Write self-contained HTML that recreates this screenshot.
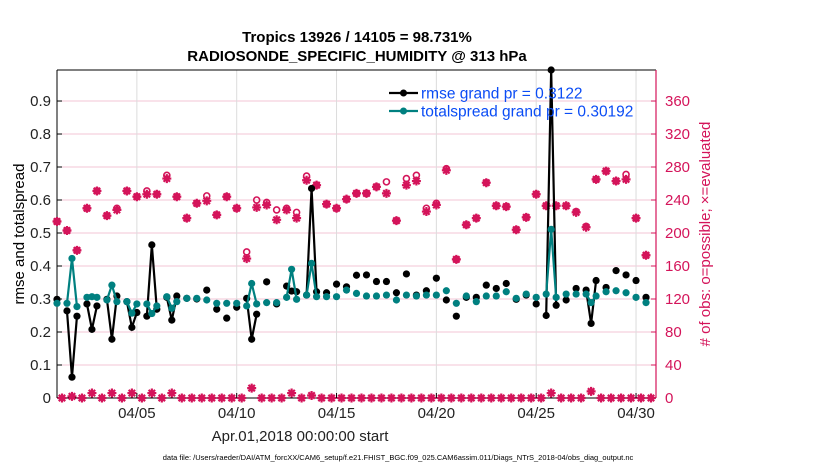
<!DOCTYPE html>
<html><head><meta charset="utf-8">
<style>
html,body{margin:0;padding:0;background:#fff;}
svg{display:block;font-family:"Liberation Sans",Arial,sans-serif;}
</style></head>
<body>
<svg id="chart" width="830" height="470" viewBox="0 0 830 470" xmlns="http://www.w3.org/2000/svg">
  <rect width="830" height="470" fill="#fff"/>
  <text x="357" y="42" text-anchor="middle" font-size="15" font-weight="bold" fill="#000">Tropics 13926 / 14105 = 98.731%</text>
  <text x="357" y="61" text-anchor="middle" font-size="15" font-weight="bold" fill="#000">RADIOSONDE_SPECIFIC_HUMIDITY @ 313 hPa</text>
  <g id="grid"></g>
  <g id="axes"></g>
  <g id="marks"></g>
  <text transform="translate(24,234) rotate(-90)" text-anchor="middle" font-size="15" fill="#000">rmse and totalspread</text>
  <text transform="translate(710,234) rotate(-90)" text-anchor="middle" font-size="15" fill="#d4145a"># of obs: o=possible; ×=evaluated</text>
  <text x="300" y="441" text-anchor="middle" font-size="15" fill="#222">Apr.01,2018 00:00:00 start</text>
  <text x="398" y="460" text-anchor="middle" font-size="7.5" fill="#000">data file: /Users/raeder/DAI/ATM_forcXX/CAM6_setup/f.e21.FHIST_BGC.f09_025.CAM6assim.011/Diags_NTrS_2018-04/obs_diag_output.nc</text>
  <g id="legend"></g>
</svg>
<script>
// ---- data (00Z and 12Z, every half day from Apr 1) ----
const rmse12 = [.299,.264,.248,.285,.279,.299,.309,.292,.259,.248,.269,.305,.309,.302,.300,.327,.269,.242,.275,.302,.254,.352,.285,.339,.322,.312,.322,.319,.345,.337,.372,.373,.353,.353,.319,.376,.312,.325,.363,.297,.248,.305,.305,.342,.332,.347,.299,.312,.285,.250,.281,.297,.332,.327,.356,.335,.386,.373,.356,.305];
const spread12 = [.287,.287,.277,.305,.305,.297,.292,.292,.285,.285,.279,.307,.292,.302,.302,.297,.287,.287,.287,.279,.285,.289,.289,.305,.299,.312,.307,.307,.307,.327,.317,.309,.309,.312,.297,.312,.309,.312,.312,.325,.287,.309,.292,.309,.309,.322,.302,.315,.305,.315,.305,.315,.315,.315,.309,.322,.325,.319,.305,.289];
const used12 = [214,203,179,230,251,221,228,251,244,247,247,266,244,218,236,239,222,244,230,169,231,234,216,228,218,264,258,235,230,241,248,248,256,248,215,258,263,226,234,276,168,210,218,261,233,232,204,219,247,233,233,233,225,207,265,275,263,265,218,173];
const poss12 = [214,203,179,230,251,221,230,251,244,251,247,270,244,218,236,245,222,244,230,177,240,237,228,230,225,269,258,235,230,241,248,248,256,262,215,266,270,230,236,278,168,210,218,261,233,232,204,219,247,233,233,233,226,208,265,275,263,271,218,173];
// ---- 18Z analyses that had observations ----
const times18 = [0.75,1.75,2.75,3.75,4.75,5.75,9.75,11.75,12.75,24.75,26.75];
const rmse18 = [.063,.208,.178,.214,.464,.236,.178,.324,.635,.994,.226];
const spread18 = [.423,.307,.342,.257,.256,.272,.347,.390,.408,.511,.289];
const count18 = [2,6,6,6,6,6,12,6,3,6,8];
// ---- axes ----
const yTicks = [0,0.1,0.2,0.3,0.4,0.5,0.6,0.7,0.8,0.9];
const yTickLabels = ["0","0.1","0.2","0.3","0.4","0.5","0.6","0.7","0.8","0.9"];
const y2Ticks = [0,40,80,120,160,200,240,280,320,360];
const xTickDays = [4,9,14,19,24,29];
const xTickLabels = ["04/05","04/10","04/15","04/20","04/25","04/30"];
const legendLabels = ["rmse grand pr = 0.3122","totalspread grand pr = 0.30192"];

const NS="http://www.w3.org/2000/svg";
const L=57,R=656,T=70,B=398, DAYS=30, YMAX=0.994, Y2MAX=397.6;
const xS=d=>L+d*(R-L)/DAYS;
const yS=v=>B-v*(B-T)/YMAX;
const y2S=c=>B-c*(B-T)/Y2MAX;
const PINK="#d4145a", TEAL="#008080";
function mk(tag,attrs,parent){const e=document.createElementNS(NS,tag);for(const k in attrs)e.setAttribute(k,attrs[k]);parent.appendChild(e);return e;}
const grid=document.getElementById('grid'),axes=document.getElementById('axes'),marks=document.getElementById('marks'),legend=document.getElementById('legend');

yTicks.forEach((v,i)=>{
  const y=yS(v);
  if(v>0){const g=mk('line',{x1:L,x2:R,y1:y,y2:y,stroke:'#f3c6d6','stroke-width':1},grid);
  
  }
  mk('line',{x1:L,x2:L+5,y1:y,y2:y,stroke:'#000'},axes);
  const t=mk('text',{x:L-6,y:y+5,'text-anchor':'end','font-size':15,fill:'#222'},axes);
  t.textContent=yTickLabels[i];
  
  
});
y2Ticks.forEach(c=>{
  const y=y2S(c);
  mk('line',{x1:R-5,x2:R,y1:y,y2:y,stroke:PINK},axes);
  const t=mk('text',{x:R+9,y:y+5,'font-size':15,fill:PINK},axes);
  t.textContent=String(c);
  
  
});
xTickDays.forEach((d,i)=>{
  const x=xS(d);
  const g=mk('line',{x1:x,x2:x,y1:T,y2:B,stroke:'#dcdcdc'},grid);
  
  
  mk('line',{x1:x,x2:x,y1:B,y2:B-5,stroke:'#000'},axes);
  const t=mk('text',{x:x,y:418,'text-anchor':'middle','font-size':15,fill:'#222'},axes);
  t.textContent=xTickLabels[i];
  
  
});
mk('line',{x1:L,x2:R,y1:T,y2:T,stroke:'#000','stroke-width':1},axes);
mk('line',{x1:L,x2:R,y1:B,y2:B,stroke:'#000','stroke-width':1},axes);
mk('line',{x1:L,x2:L,y1:T,y2:B,stroke:'#000','stroke-width':1},axes);
mk('line',{x1:R,x2:R,y1:T,y2:B,stroke:PINK,'stroke-width':1.2},axes);

// combine series by time
function series(a12,a18){
  const pts=[];
  a12.forEach((v,i)=>pts.push([i*0.5,v]));
  a18.forEach((v,i)=>pts.push([times18[i],v]));
  pts.sort((a,b)=>a[0]-b[0]);
  return pts;
}
function drawCounts(){
  // all 6-hourly slots: 00/12Z have counts from arrays, 06Z zero, 18Z from count18 (else 0)
  for(let d=0; d<DAYS; d++){
    [0.25,0.75].forEach(f=>{
      const t=d+f; const k=times18.indexOf(t);
      const c=k>=0?count18[k]:0;
      star(xS(t),y2S(c),'count-evaluated-small');
    });
  }
  poss12.forEach((c,i)=>circ(xS(i*0.5),y2S(c),'count-possible'));
  used12.forEach((c,i)=>star(xS(i*0.5),y2S(c),'count-evaluated'));
}
function circ(x,y,name){
  const c=mk('circle',{cx:x,cy:y,r:3,fill:'none',stroke:PINK,'stroke-width':1.6},marks);
  
  
}
function star(x,y,name){
  const g=mk('g',{},marks);
  
  
  mk('path',{d:`M${x-4.5},${y}H${x+4.5}M${x},${y-4.5}V${y+4.5}M${x-3.2},${y-3.2}L${x+3.2},${y+3.2}M${x-3.2},${y+3.2}L${x+3.2},${y-3.2}`,stroke:PINK,'stroke-width':2.2},g);
  mk('circle',{cx:x,cy:y,r:2.6,fill:PINK},g);
}
function drawLine(pts,color,name){
  let d='';let prev=null;
  pts.forEach(p=>{
    const x=xS(p[0]),y=yS(p[1]);
    if(prev!==null && p[0]-prev<=0.3) d+=`L${x},${y}`; else d+=`M${x},${y}`;
    prev=p[0];
  });
  const pa=mk('path',{d:d,fill:'none',stroke:color,'stroke-width':2.2},marks);
  
  
  pts.forEach(p=>{
    const c=mk('circle',{cx:xS(p[0]),cy:yS(p[1]),r:3.6,fill:color},marks);
    
    
  });
}
drawCounts();
drawLine(series(rmse12,rmse18),'#000','rmse');
drawLine(series(spread12,spread18),TEAL,'totalspread');

// legend
[['#000',legendLabels[0],93,'legend-entry-rmse'],[TEAL,legendLabels[1],111,'legend-entry-totalspread']].forEach(e=>{
  const g=mk('g',{},legend);
  
  
  mk('line',{x1:389,x2:418,y1:e[2],y2:e[2],stroke:e[0],'stroke-width':2.2},g);
  mk('circle',{cx:403.5,cy:e[2],r:3.5,fill:e[0]},g);
  const t=mk('text',{x:421,y:e[2]+5.5,'font-size':15.5,fill:'#0a4cf5'},g);
  t.textContent=e[1];
});
</script>
</body></html>
